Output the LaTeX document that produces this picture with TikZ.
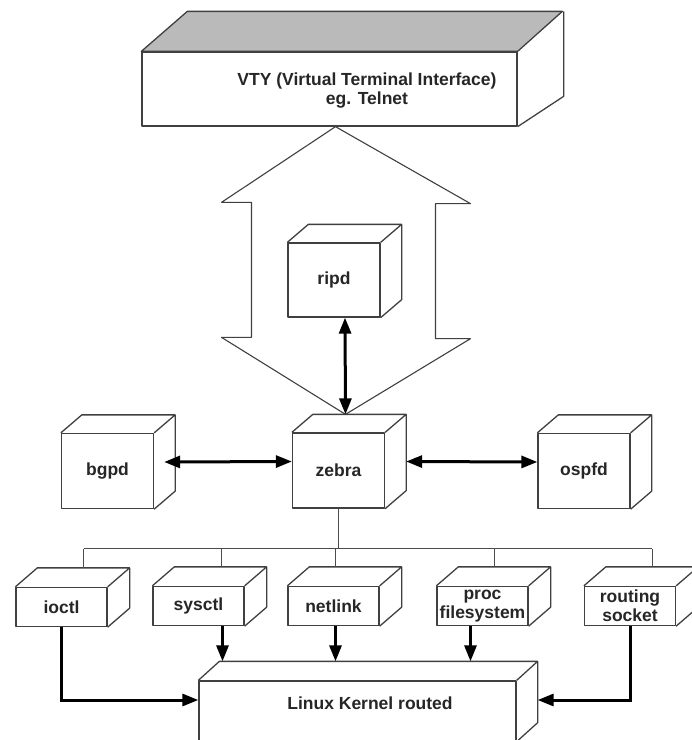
\documentclass[tikz,border=0pt]{standalone}
\usepackage{fontspec}
\setmainfont{Liberation Sans}
\usetikzlibrary{arrows.meta}
% side and top of a box node: #1 name, #2 depth to the right, #3 depth upwards
\newcommand{\cubeside}[3]{%
  \draw[face] (#1.north west) -- ++(#2,-#3) -- ([shift={(#2pt,#3pt)}]#1.north east)
    -- ([shift={(#2pt,#3pt)}]#1.south east) -- (#1.south east)
    (#1.north east) -- ++(#2,-#3);}

\begin{document}
\begin{tikzpicture}[x=1pt, y=-1pt,
    every node/.style={font=\bfseries\fontsize{17.5}{19}\selectfont, text=black!85},
    face/.style={draw=black!75, line width=1.3pt, line join=round},
    cube/.style={face, fill=white, inner sep=0pt, minimum width=92pt, minimum height=75pt},
    tile/.style={face, fill=white, inner sep=0pt, minimum width=91pt, minimum height=39pt, align=center},
    slab/.style={face, fill=white, inner sep=0pt},
    bus/.style={draw=black!70, line width=0.9pt},
    link/.style={line width=3pt, >={Triangle[length=16pt,width=12pt]}}]
  \clip (0,0) rectangle (692,740); %
  % VTY
  \node[slab, minimum width=375pt, minimum height=74pt] (vty) at (329.5,89) {}; %
  \draw[face, fill=black!27] (vty.north west) -- ++(46,-40) -- ++(375,0) -- (vty.north east) -- cycle; %
  \draw[face] (vty.north east) ++(46,-40) -- ++(0,85) -- (vty.south east); %
  \node[align=center] (vtytext) at (367,90.5) {VTY (Virtual Terminal Interface)\\eg. Telnet}; %
  % zebra and the daemons
  \node[cube] (zebra) at (338.5,470.5) {zebra}; %
  \node[cube] (bgpd) at (107.5,471) {bgpd}; %
  \node[cube] (ospfd) at (584,471) {ospfd}; %
  \coordinate (vtytip) at ([xshift=6pt]vty.south); %
  \coordinate (zebtip) at ([shift={(7pt,18pt)}]zebra.north); %
  \draw[face, line width=1.1pt, fill=white] (vtytip) -- ++(135,77) -- ++(-35,0) -- ++(0,135) -- ++(35,0)
    -- (zebtip) -- ++(-124,-77) -- ++(30,0) -- ++(0,-135) -- ++(-30,0) -- cycle; %
  \node[cube, minimum height=74pt] (ripd) at (334,280) {ripd}; %
  \foreach \n in {ripd,zebra,bgpd,ospfd}
    \cubeside{\n}{21}{18}; %
  \draw[link, <->] ([xshift=11pt]ripd.south) -- (zebtip); %
  \draw[link, <->] ([shift={(10pt,9pt)}]bgpd.east) -- ([yshift=9pt]zebra.west); %
  \draw[link, <->] ([shift={(21pt,9pt)}]zebra.east) -- ([yshift=9pt]ospfd.west); %
  % interfaces
  \node[tile] (ioctl) at (61.5,607) {ioctl}; %
  \node[tile] (sysctl) at (198.5,606) {sysctl}; %
  \node[tile] (netlink) at (333.5,606) {netlink}; %
  \node[tile] (proc) at (482.5,606) {proc\\filesystem}; %
  \node[tile] (routing) at (630,606) {routing\\socket}; %
  \coordinate (bus) at ([yshift=-40pt]zebra.south); %
  \foreach \b/\s in {ioctl/22,sysctl/23,netlink/2,proc/12,routing/22} {
    \cubeside{\b}{22}{19}
    \draw[bus] ([shift={(\s pt,19pt)}]\b.north) coordinate (\b-top) -- (\b-top |- bus) coordinate (\b-bus);
  }
  \draw[bus] (ioctl-bus) -- (routing-bus); %
  \draw[bus] (zebra.south) -- (bus); %
  % kernel
  \node[slab, minimum width=317pt, minimum height=60pt] (kernel) at (357.5,711) {}; %
  \cubeside{kernel}{21}{19}; %
  \node (kerneltext) at (370,703) {Linux Kernel routed}; %
  \coordinate (kback) at ([yshift=19pt]kernel.north); %
  \draw[link, ->] ([xshift=24pt]sysctl.south) coordinate (a1) -- (a1 |- kback); %
  \draw[link, ->] ([xshift=2pt]netlink.south) coordinate (a2) -- (a2 |- kback); %
  \draw[link, ->] ([xshift=-12pt]proc.south) coordinate (a3) -- (a3 |- kback); %
  \draw[link, ->] (ioctl.south) |- ([yshift=11pt]kernel.west); %
  \draw[link, ->] (routing.south) |- ([shift={(21pt,11pt)}]kernel.east); %
\end{tikzpicture}
\end{document}
